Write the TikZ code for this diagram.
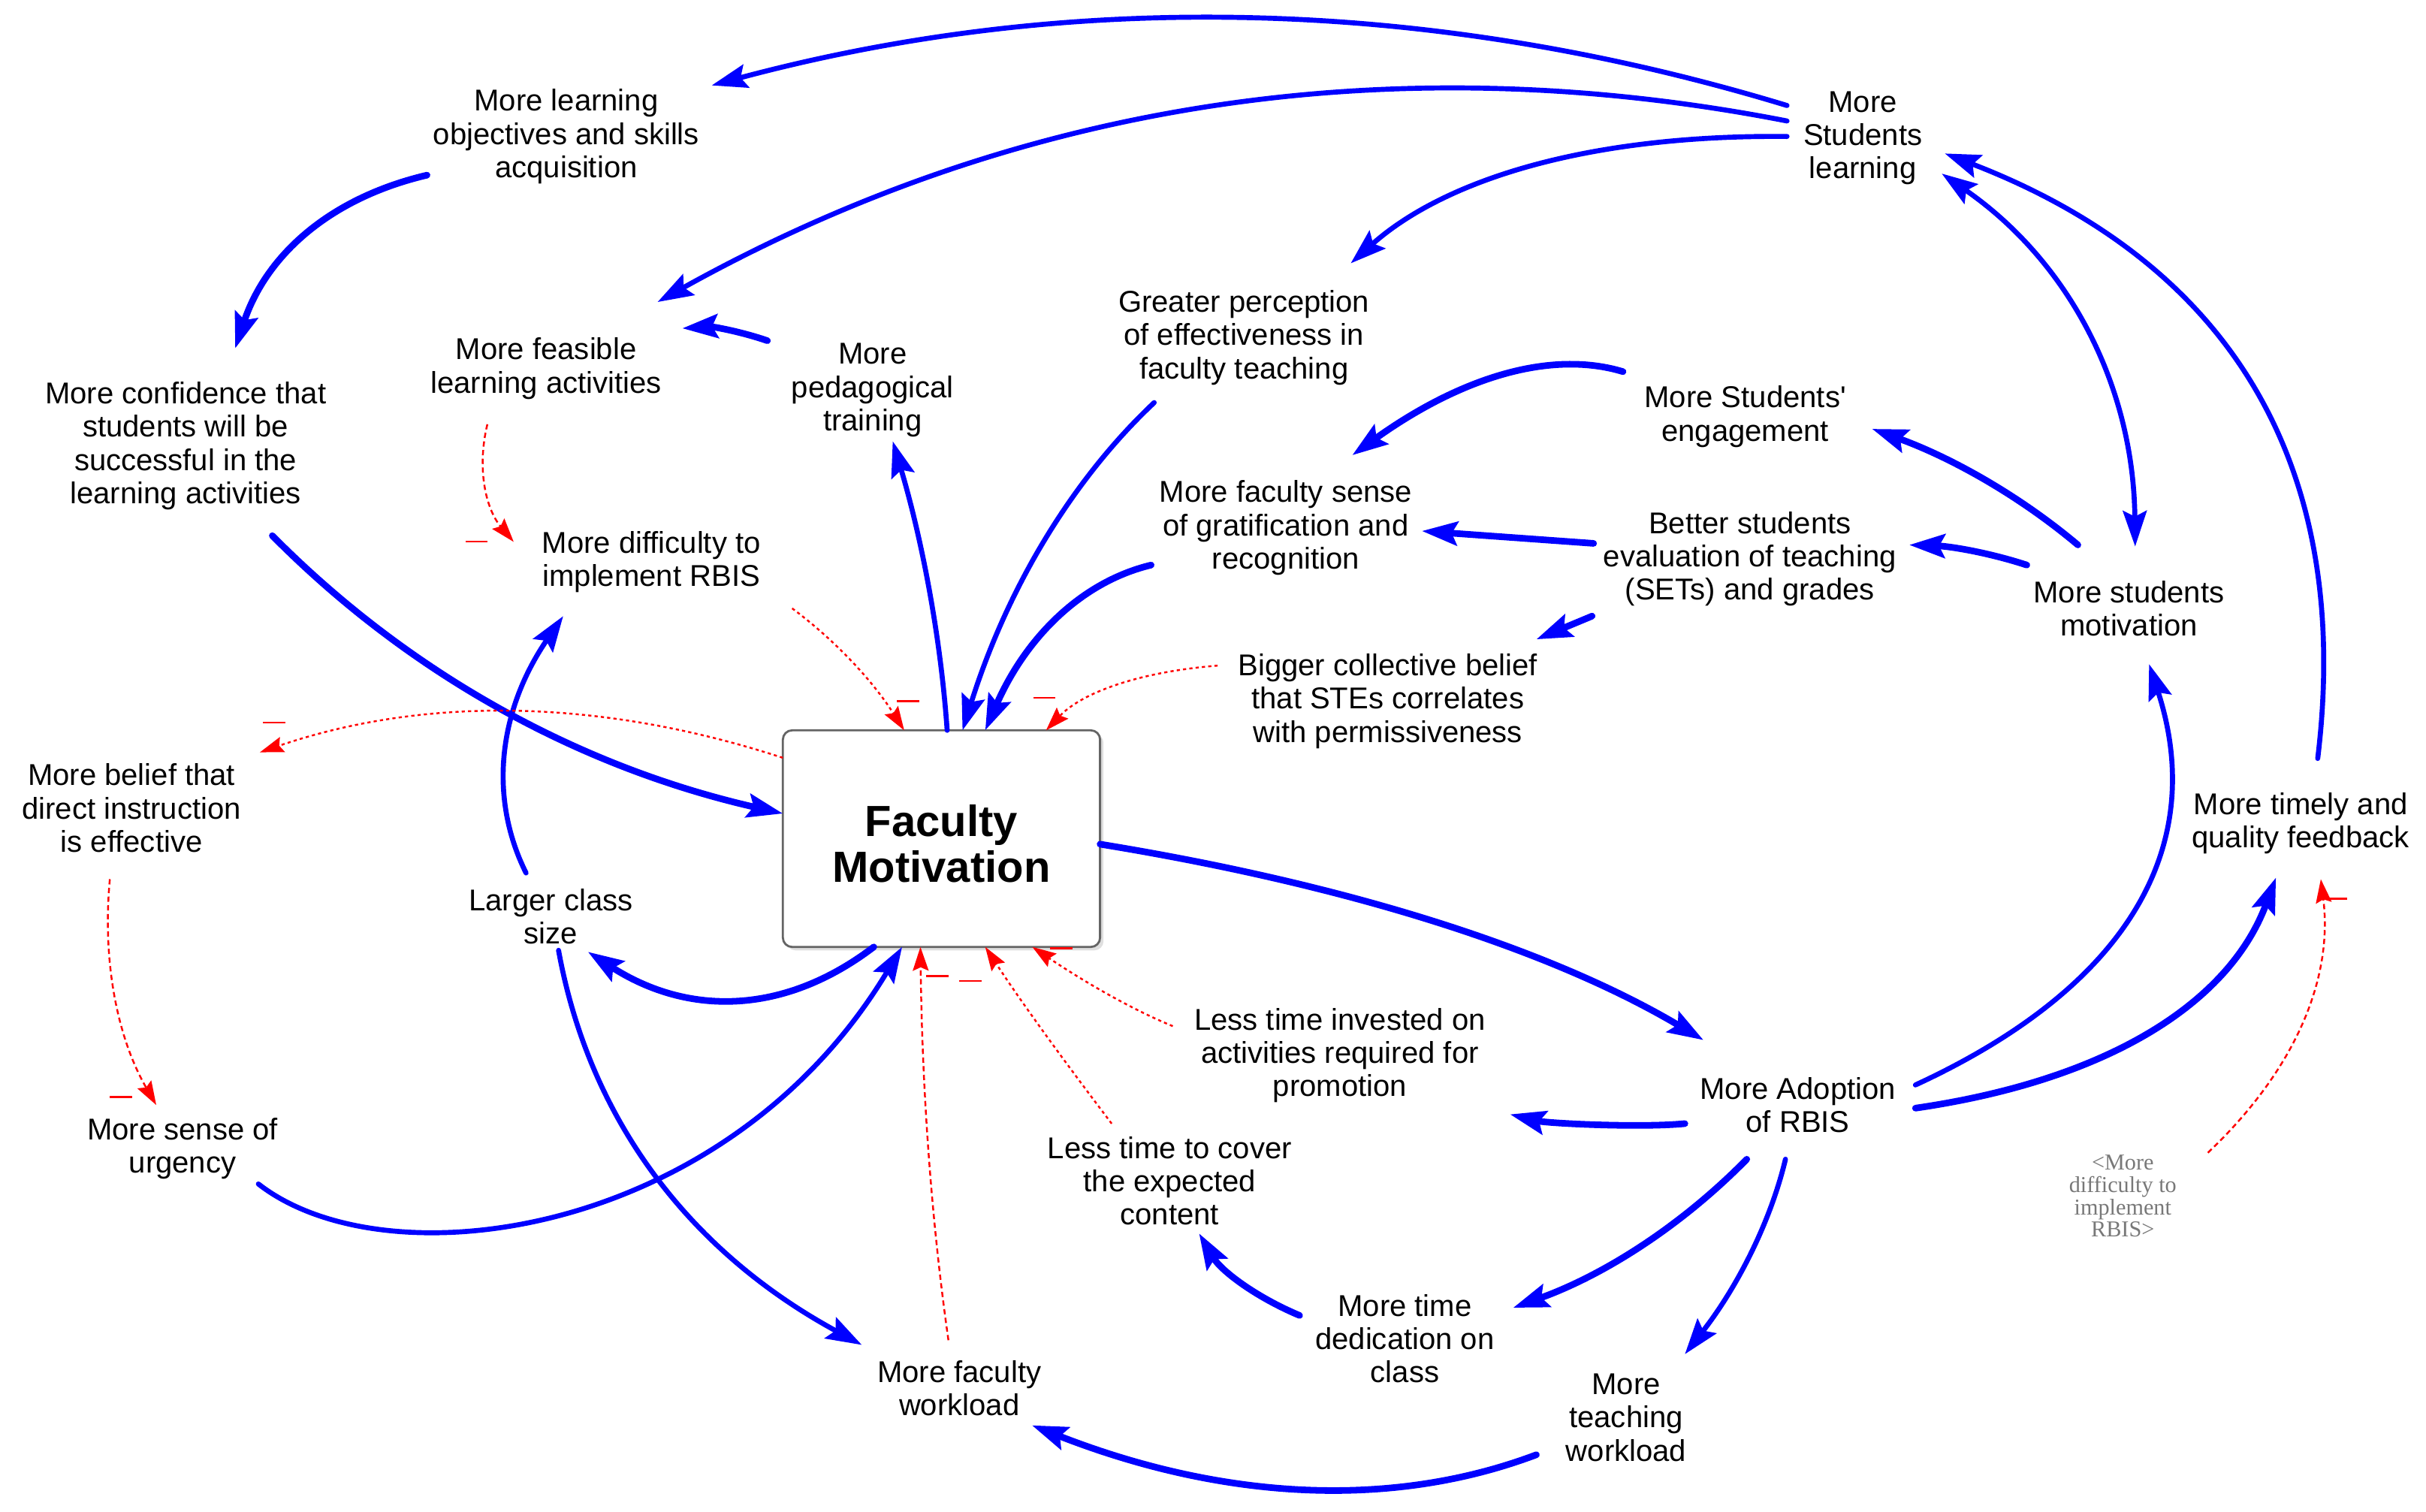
\documentclass[tikz,border=0pt]{standalone}
\usepackage{fontspec}
\setmainfont{Liberation Sans}
\newfontfamily\shadowfont{Liberation Serif}
\usetikzlibrary{arrows.meta,calc,shadows}
\definecolor{vblue}{RGB}{0,0,255}
\definecolor{vred}{RGB}{255,0,0}
\definecolor{boxgray}{RGB}{100,100,100}
\definecolor{ghostgray}{RGB}{120,120,120}
\begin{document}
\begin{tikzpicture}[x=0.0206cm,y=-0.0206cm,
  var/.style={align=center,inner sep=0pt,yshift=-0.045cm,font=\fontsize{11.4}{12.6}\selectfont},
  ghost/.style={align=center,inner sep=0pt,text=ghostgray,font=\shadowfont\fontsize{8.6}{8.5}\selectfont},
  stockbox/.style={draw=boxgray,line width=0.8pt,fill=white,rounded corners=3.5pt,
    minimum width=4.223cm,minimum height=2.884cm,inner sep=0pt,outer sep=0pt,align=center,
    font=\bfseries\fontsize{16.5}{17.3}\selectfont,
    drop shadow={shadow xshift=1.3pt,shadow yshift=-1.3pt,fill=black!25}},
  bn/.style={draw=vblue,line width=1.9pt,line cap=round,-{Stealth[length=13.5pt,width=9pt,inset=2.2pt]}},
  bk/.style={bn,line width=2.5pt},
  rdash/.style={draw=vred,line width=0.7pt,dash pattern=on 2pt off 1.3pt,-{Stealth[length=9pt,width=6pt,inset=1.3pt]}},
  rdot/.style={rdash,dash pattern=on 1.2pt off 1.2pt},
  minus/.style={fill=vred,minimum width=8.5pt,minimum height=0.8pt,inner sep=0pt,outer sep=0pt}
]
\useasboundingbox (0,0) rectangle (1568,977);

% ---- variables ----
\node[var] (mlo) at (366,86) {More learning\\objectives and skills\\acquisition};
\node[var] (stl) at (1204,87) {More\\Students\\learning};
\node[var] (mconf) at (120,286) {More confidence that\\students will be\\successful in the\\learning activities};
\node[var] (mfeas) at (353,236) {More feasible\\learning activities};
\node[var] (mped) at (564,250) {More\\pedagogical\\training};
\node[var] (gperc) at (804,216) {Greater perception\\of effectiveness in\\faculty teaching};
\node[var] (meng) at (1128,267) {More Students\textquotesingle\\engagement};
\node[var] (mfsg) at (831,339) {More faculty sense\\of gratification and\\recognition};
\node[var] (bset) at (1131,359) {Better students\\evaluation of teaching\\(SETs) and grades};
\node[var] (msm) at (1376,391) {More students\\motivation};
\node[var] (mdiff) at (421,361) {More difficulty to\\implement RBIS};
\node[var] (bcb) at (897,451) {Bigger collective belief\\that STEs correlates\\with permissiveness};
\node[var] (mbel) at (85,520) {More belief that\\direct instruction\\is effective};
\node[stockbox] (fm) at (608.5,542) {\rule{0pt}{15.6pt}Faculty\\Motivation};
\node[var] (lcs) at (356,590) {Larger class\\size};
\node[var] (mtf) at (1487,530) {More timely and\\quality feedback};
\node[var] (ltip) at (866,680) {Less time invested on\\activities required for\\promotion};
\node[var] (mar) at (1162,712) {More Adoption\\of RBIS};
\node[var] (msu) at (118,740) {More sense of\\urgency};
\node[var] (ltc) at (756,761) {Less time to cover\\the expected\\content};
\node[var] (mtd) at (908,863) {More time\\dedication on\\class};
\node[var] (mfw) at (620,895) {More faculty\\workload};
\node[var] (mtw) at (1051,914) {More\\teaching\\workload};
\node[ghost] (shd) at (1372,773) {<More\\difficulty to\\implement\\RBIS>};

% ---- positive (blue) links ----
\draw[bn] ($(stl)+(-49,-21)$) .. controls (924,-2) and (692,-7) .. ($(mlo)+(94,-33)$);
\draw[bn] ($(stl)+(-49,-11)$) .. controls (898,28) and (655,67) .. ($(mfeas)+(72,-43)$);
\draw[bn] ($(stl)+(-49,-1)$) .. controls (1029,87) and (935,115) .. ($(gperc)+(69,-48)$);
\draw[bk] ($(mlo)+(-90,25)$) .. controls (213,128) and (172,165) .. ($(mconf)+(32,-63)$);
\draw[bk] ($(mped)+(-68,-32)$) .. controls (478,214) and (460,211) .. ($(mfeas)+(88,-26)$);
\draw[bk] ($(mconf)+(56,58)$) .. controls (265,436) and (375,496) .. (fm.171);
\draw[bn] ($(lcs)+(-16,-28)$) .. controls (315,514) and (323,458) .. ($(mdiff)+(-57,35)$);
\draw[bn] (fm.87) .. controls (608,412) and (596,349) .. ($(mped)+(13,33)$);
\draw[bn] ($(gperc)+(-58,42)$) .. controls (693,310) and (651,380) .. (fm.79);
\draw[bk] ($(mfsg)+(-87,24)$) .. controls (699,376) and (663,412) .. (fm.68.6);
\draw[bk] ($(meng)+(-79,-29)$) .. controls (1002,226) and (944,244) .. ($(mfsg)+(43,-47)$);
\draw[bk] ($(bset)+(-101,-10)$) -- ($(mfsg)+(88,2)$);
\draw[bk] ($(bset)+(-102,37)$) -- ($(bcb)+(96,-40)$);
\draw[bk] ($(msm)+(-33,-41)$) .. controls (1306,321) and (1262,296) .. ($(meng)+(82,8)$);
\draw[bk] ($(msm)+(-66,-28)$) .. controls (1285,357) and (1260,353) .. ($(bset)+(103,-9)$);
\draw[bn,{Stealth[length=13.5pt,width=9pt,inset=2.2pt]}-{Stealth[length=13.5pt,width=9pt,inset=2.2pt]}]
  ($(stl)+(51,23)$) .. controls (1337,169) and (1379,249) .. ($(msm)+(4,-40)$);
\draw[bn] ($(mtf)+(11,-42)$) .. controls (1521,300) and (1441,170) .. ($(stl)+(53,10)$);
\draw[bk] (fm.358) .. controls (873,572) and (1003,614) .. ($(mar)+(-61,-42)$);
\draw[bk] ($(mar)+(-73,12)$) .. controls (1060,729) and (1000,726) .. ($(ltip)+(110,38)$);
\draw[bn] ($(mar)+(76,-13)$) .. controls (1377,637) and (1427,546) .. ($(msm)+(13,36)$);
\draw[bk] ($(mar)+(76,2)$) .. controls (1363,698) and (1441,648) .. ($(mtf)+(-16,35)$);
\draw[bk] ($(mar)+(-33,35)$) .. controls (1087,792) and (1037,824) .. ($(mtd)+(70,-20)$);
\draw[bn] ($(mar)+(-8,35)$) .. controls (1144,791) and (1122,833) .. ($(mtw)+(38,-41)$);
\draw[bk] ($(mtd)+(-68,-15)$) .. controls (811,838) and (789,821) .. ($(ltc)+(19,34)$);
\draw[bk] ($(mtw)+(-58,24)$) .. controls (898,976) and (789,969) .. ($(mfw)+(47,24)$);
\draw[bn] ($(lcs)+(5,22)$) .. controls (381,724) and (446,809) .. ($(mfw)+(-63,-28)$);
\draw[bk] (fm.238) .. controls (507,656) and (445,657) .. ($(lcs)+(24,23)$);
\draw[bn] ($(msu)+(49,23)$) .. controls (250,830) and (470,800) .. (fm.250);

% ---- negative (red) links ----
\draw[rdash] ($(mfeas)+(-38,36)$) .. controls (308,303) and (314,329) .. ($(mdiff)+(-89,-13)$);
\draw[rdot] ($(mdiff)+(91,30)$) .. controls (540,414) and (564,440) .. (fm.109.3);
\draw[rdot] ($(bcb)+(-110,-23)$) .. controls (738,434) and (700,447) .. (fm.46.9);
\draw[rdot] (fm.153.5) .. controls (387,451) and (274,450) .. ($(mbel)+(83,-36)$);
\draw[rdash] ($(mbel)+(-14,46)$) .. controls (66,622) and (76,671) .. ($(msu)+(-17,-28)$);
\draw[rdash] ($(mfw)+(-7,-31)$) .. controls (602,789) and (596,705) .. (fm.259);
\draw[rdot] ($(ltc)+(-37.5,-37)$) .. controls (688,686) and (661,649) .. (fm.292.2);
\draw[rdot] ($(ltip)+(-108,-19)$) .. controls (733,653) and (703,636) .. (fm.310.8);
\draw[rdash] ($(shd)+(55,-28)$) .. controls (1484,691) and (1508,632) .. ($(mtf)+(13,36)$);

% ---- polarity signs ----
\node[minus] (p1) at (308,350) {};
\node[minus] (p2) at (587,453) {};
\node[minus] (p3) at (675,451) {};
\node[minus] (p4) at (177,467) {};
\node[minus] (p5) at (78,709) {};
\node[minus] (p6) at (606,631) {};
\node[minus] (p7) at (627,634) {};
\node[minus] (p8) at (686,613) {};
\node[minus] (p9) at (1510,581) {};
\end{tikzpicture}
\end{document}
